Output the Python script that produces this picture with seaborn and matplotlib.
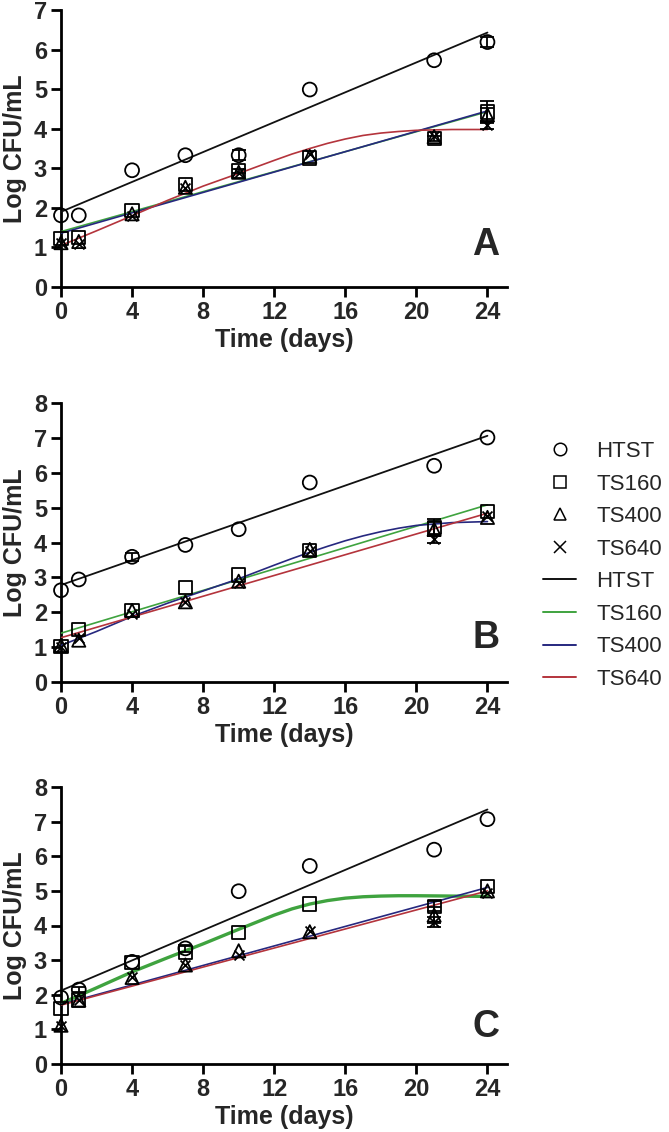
import numpy as np
import pandas as pd
import seaborn as sns
import matplotlib
matplotlib.use("Agg")
import matplotlib.pyplot as plt
from matplotlib.lines import Line2D

sns.set_theme(style="ticks")
plt.rcParams['font.family'] = ['Liberation Sans', 'DejaVu Sans']

# ---------------- data ----------------
days = [0, 1, 4, 7, 10, 14, 21, 24]
series = ["HTST", "TS160", "TS400", "TS640"]

# Panel A observations
A_HTST = [1.81, 1.81, 2.95, 3.33, 3.33, 4.99, 5.73, 6.19]
A_TS160 = [1.22, 1.25, 1.94, 2.59, 2.93, 3.26, 3.75, 4.42]
A_TS400 = [1.12, 1.15, 1.85, 2.52, 2.90, 3.30, 3.80, 4.35]
A_TS640 = [1.10, 1.08, 1.80, 2.50, 2.88, 3.35, 3.82, 4.10]
A_HTST_err = [0, 0, 0, 0, 0.12, 0, 0, 0.12]
A_TS160_err = [0, 0, 0, 0, 0.05, 0, 0.06, 0.28]
A_TS400_err = [0, 0, 0, 0, 0, 0, 0, 0.18]
A_TS640_err = [0, 0, 0, 0, 0, 0, 0, 0.10]

# Panel B observations
B_HTST = [2.63, 2.94, 3.59, 3.93, 4.38, 5.72, 6.20, 7.01]
B_TS160 = [1.02, 1.50, 2.06, 2.70, 3.07, 3.78, 4.43, 4.89]
B_TS400 = [1.05, 1.20, 2.05, 2.30, 2.89, 3.80, 4.38, 4.72]
B_TS640 = [1.00, 1.25, 1.95, 2.30, 2.85, 3.75, 4.10, 4.75]
B_HTST_err = [0, 0, 0.12, 0, 0, 0, 0, 0]
B_TS160_err = [0, 0, 0, 0, 0, 0, 0.25, 0]
B_TS400_err = [0, 0, 0, 0, 0, 0, 0.20, 0]
B_TS640_err = [0, 0, 0, 0, 0, 0, 0.12, 0]

# Panel C observations
C_HTST = [1.92, 2.15, 2.95, 3.34, 4.99, 5.72, 6.19, 7.07]
C_TS160 = [1.60, 1.85, 2.92, 3.22, 3.79, 4.62, 4.56, 5.13]
C_TS400 = [1.12, 1.85, 2.50, 2.86, 3.27, 3.82, 4.30, 5.00]
C_TS640 = [1.10, 1.85, 2.50, 2.85, 3.15, 3.85, 4.10, 4.95]
C_HTST_err = [0, 0.08, 0, 0.10, 0, 0, 0, 0]
C_TS160_err = [0, 0, 0, 0, 0, 0, 0.15, 0]
C_TS400_err = [0, 0, 0, 0, 0, 0, 0.22, 0]
C_TS640_err = [0, 0, 0, 0, 0, 0, 0.15, 0]

# fitted lines
line_x = [0, 24]
curve_x = [0, 2, 4, 6, 8, 10, 12, 13, 14, 15, 16, 17, 18, 19, 20, 22, 24]

A_fit_HTST = [1.90, 6.43]
A_fit_TS160 = [1.40, 4.43]
A_fit_TS400 = [1.36, 4.45]
A_fit_TS640 = [1.05, 1.42, 1.80, 2.19, 2.55, 2.87, 3.20, 3.36, 3.50, 3.63, 3.74, 3.83, 3.89, 3.93, 3.96, 3.98, 3.98]

B_fit_HTST = [2.78, 7.06]
B_fit_TS160 = [1.40, 5.08]
B_fit_TS400 = [1.05, 1.45, 1.88, 2.26, 2.61, 2.96, 3.35, 3.54, 3.72, 3.89, 4.05, 4.19, 4.31, 4.41, 4.49, 4.57, 4.60]
B_fit_TS640 = [1.27, 4.84]

C_fit_HTST = [2.12, 7.35]
C_fit_TS160 = [1.75, 2.20, 2.66, 3.07, 3.47, 3.89, 4.30, 4.48, 4.62, 4.72, 4.79, 4.83, 4.85, 4.86, 4.86, 4.85, 4.84]
C_fit_TS400 = [1.72, 5.10]
C_fit_TS640 = [1.70, 5.00]

panel_letters = ["A", "B", "C"]
y_max = [7, 8, 8]
x_ticks = [0, 4, 8, 12, 16, 20, 24]

# ---------------- style ----------------
markers = {"HTST": "o", "TS160": "s", "TS400": "^", "TS640": "x"}
msize = {"HTST": 10, "TS160": 9.5, "TS400": 9.5, "TS640": 8}
line_colors = {"HTST": "#111111", "TS160": "#3fa33f", "TS400": "#26287f", "TS640": "#b4343c"}

obs = {
    "A": [(A_HTST, A_HTST_err), (A_TS160, A_TS160_err), (A_TS400, A_TS400_err), (A_TS640, A_TS640_err)],
    "B": [(B_HTST, B_HTST_err), (B_TS160, B_TS160_err), (B_TS400, B_TS400_err), (B_TS640, B_TS640_err)],
    "C": [(C_HTST, C_HTST_err), (C_TS160, C_TS160_err), (C_TS400, C_TS400_err), (C_TS640, C_TS640_err)],
}
fits = {
    "A": [(line_x, A_fit_HTST), (line_x, A_fit_TS160), (line_x, A_fit_TS400), (curve_x, A_fit_TS640)],
    "B": [(line_x, B_fit_HTST), (line_x, B_fit_TS160), (curve_x, B_fit_TS400), (line_x, B_fit_TS640)],
    "C": [(line_x, C_fit_HTST), (curve_x, C_fit_TS160), (line_x, C_fit_TS400), (line_x, C_fit_TS640)],
}
fit_lw = {"A": [1.3, 1.2, 1.2, 1.2], "B": [1.3, 1.2, 1.2, 1.2], "C": [1.3, 2.4, 1.2, 1.2]}

W, H = 669, 1132
fig = plt.figure(figsize=(W / 100, H / 100), dpi=100)
boxes = [(10, 287), (403, 682), (787, 1064)]
left_px, right_px = 61, 507

for i, letter in enumerate(panel_letters):
    top, bot = boxes[i]
    ax = fig.add_axes([left_px / W, 1 - bot / H, (right_px - left_px) / W, (bot - top) / H])

    # fitted lines
    for s, (fx, fy), lw in zip(series, fits[letter], fit_lw[letter]):
        df = pd.DataFrame({"x": fx, "y": fy})
        sns.lineplot(data=df, x="x", y="y", ax=ax, color=line_colors[s], lw=lw,
                     estimator=None, sort=False, legend=False, zorder=3)

    # observations with error bars
    for s, (vals, errs) in zip(series, obs[letter]):
        df = pd.DataFrame({"x": days, "y": vals, "e": errs})
        de = df[df["e"] > 0]
        if len(de):
            ax.errorbar(de["x"], de["y"], yerr=de["e"], fmt="none", ecolor="black",
                        elinewidth=1.3, capsize=5, capthick=1.3, zorder=4, clip_on=False)
        if markers[s] == "x":
            sns.scatterplot(data=df, x="x", y="y", ax=ax, marker="x", s=msize[s] ** 2 * 0.8,
                            color="black", linewidth=1.3, zorder=5, clip_on=False, legend=False)
        else:
            sns.scatterplot(data=df, x="x", y="y", ax=ax, marker=markers[s], s=msize[s] ** 2,
                            facecolor="none", edgecolor="black", linewidth=1.3, zorder=5,
                            clip_on=False, legend=False)

    ax.set_xlim(0, 25.1)
    ax.set_ylim(0, y_max[i])
    ax.set_xticks(x_ticks)
    ax.set_yticks(range(0, y_max[i] + 1))
    ax.set_xlabel("Time (days)", fontsize=18, fontweight="bold", labelpad=3)
    ax.set_ylabel("Log CFU/mL", fontsize=18, fontweight="bold", labelpad=5)
    for lab in ax.get_xticklabels() + ax.get_yticklabels():
        lab.set_fontweight("bold")
    ax.tick_params(axis="both", labelsize=17, width=2, length=7, color="black", pad=3)
    for sp in ["top", "right"]:
        ax.spines[sp].set_visible(False)
    for sp in ["left", "bottom"]:
        ax.spines[sp].set_linewidth(2)
        ax.spines[sp].set_color("black")
    ax.set_facecolor("none")

    ly = [1.05, 1.26, 1.07][i]
    ax.text(23.9, ly, letter, fontsize=27, fontweight="bold", ha="center", va="center", zorder=6)

# legend
handles = []
for s in series:
    if markers[s] == "x":
        handles.append(Line2D([], [], ls="none", marker="x", color="black", markersize=8, mew=1.1))
    else:
        handles.append(Line2D([], [], ls="none", marker=markers[s], markerfacecolor="none",
                              markeredgecolor="black", markersize=9, mew=1.1))
for s in series:
    handles.append(Line2D([], [], color=line_colors[s], lw=1.4))
labels = series + series
fig.legend(handles, labels, loc="upper left", bbox_to_anchor=(543 / W, 1 - 441 / H),
           frameon=False, fontsize=16, labelspacing=0.52, handlelength=1.5,
           handletextpad=0.9, borderaxespad=0, borderpad=0)

fig.savefig("out.png", dpi=100, facecolor="white")
